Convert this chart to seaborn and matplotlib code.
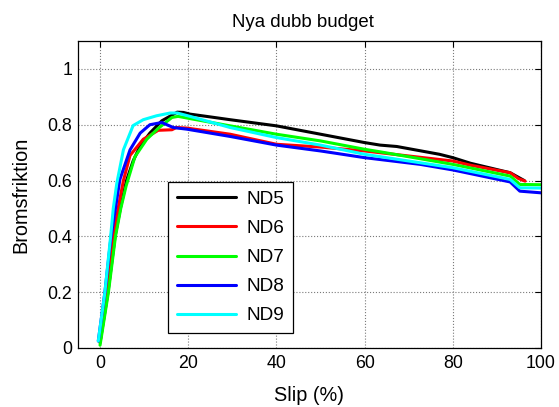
import matplotlib
matplotlib.use("Agg")
import matplotlib.pyplot as plt
import pandas as pd
import seaborn as sns
from matplotlib.ticker import FuncFormatter

# Tyre series and their line colours
series_names = ["ND5", "ND6", "ND7", "ND8", "ND9"]
series_colors = ["#000000", "#ff0000", "#00ff00", "#0000ff", "#00ffff"]

# Brake friction versus slip (%) for each tyre
nd5_slip = [0, 1.8, 3.4, 4.6, 6.0, 7.5, 9.1, 11.3, 14.0, 17.5, 18.9, 20.4, 25.0,
            29.5, 40.0, 50.0, 60.0, 63.5, 67.3, 77.0, 80.0, 84.0, 93.0, 96.2]
nd5_friction = [0.02, 0.20, 0.40, 0.50, 0.60, 0.67, 0.724, 0.77, 0.814, 0.845, 0.844,
                0.838, 0.828, 0.818, 0.796, 0.766, 0.736, 0.727, 0.722, 0.694, 0.682,
                0.662, 0.628, 0.600]

nd6_slip = [0, 1.5, 3.0, 4.1, 5.3, 6.8, 9.8, 13.2, 16.3, 17.3, 19.7, 29.5, 40.0,
            50.0, 60.0, 70.0, 80.0, 84.0, 93.0, 94.9, 96.4]
nd6_friction = [0.02, 0.20, 0.40, 0.50, 0.60, 0.69, 0.748, 0.78, 0.782, 0.79, 0.788,
                0.766, 0.73, 0.72, 0.706, 0.688, 0.67, 0.655, 0.628, 0.607, 0.598]

nd7_slip = [0, 1.9, 3.5, 4.7, 5.9, 7.9, 10.6, 13.2, 16.3, 17.7, 20.4, 29.5, 40.0,
            50.0, 60.0, 63.5, 80.0, 93.0, 95.2, 100.0]
nd7_friction = [0.01, 0.20, 0.40, 0.50, 0.58, 0.685, 0.748, 0.787, 0.826, 0.83, 0.822,
                0.796, 0.766, 0.742, 0.712, 0.703, 0.658, 0.616, 0.586, 0.585]

nd8_slip = [-0.4, 1.1, 2.5, 3.5, 4.5, 6.8, 9.1, 11.3, 14.0, 16.6, 19.7, 29.5, 40.0,
            50.0, 60.0, 72.6, 80.0, 93.0, 95.2, 100.0]
nd8_friction = [0.025, 0.20, 0.40, 0.50, 0.604, 0.71, 0.77, 0.80, 0.808, 0.79, 0.784,
                0.758, 0.727, 0.706, 0.682, 0.658, 0.638, 0.595, 0.562, 0.556]

nd9_slip = [-0.4, 1.1, 2.4, 3.0, 3.8, 5.3, 7.5, 9.8, 12.8, 15.9, 17.5, 20.4, 29.5,
            40.0, 50.0, 60.0, 80.0, 93.0, 95.2, 100.0]
nd9_friction = [0.025, 0.20, 0.40, 0.50, 0.59, 0.71, 0.797, 0.818, 0.832, 0.842, 0.842,
                0.83, 0.79, 0.754, 0.727, 0.694, 0.646, 0.604, 0.574, 0.573]

x_ticks = [0, 20, 40, 60, 80, 100]
y_ticks = [0, 0.2, 0.4, 0.6, 0.8, 1.0]

slips = [nd5_slip, nd6_slip, nd7_slip, nd8_slip, nd9_slip]
frictions = [nd5_friction, nd6_friction, nd7_friction, nd8_friction, nd9_friction]
df = pd.concat(
    [pd.DataFrame({"Slip": s, "Friktion": f, "Däck": n})
     for n, s, f in zip(series_names, slips, frictions)],
    ignore_index=True,
)

sns.set_style("white")
plt.rcParams["font.family"] = ["Liberation Sans", "DejaVu Sans"]
plt.rcParams.update({
    "text.color": "black",
    "axes.labelcolor": "black",
    "xtick.color": "black",
    "ytick.color": "black",
})

fig = plt.figure(figsize=(5.59, 4.07), dpi=100)
ax = fig.add_axes([78 / 559, 59 / 407, 463 / 559, 307 / 407])

sns.lineplot(
    data=df, x="Slip", y="Friktion", hue="Däck", hue_order=series_names,
    palette=dict(zip(series_names, series_colors)), estimator=None, sort=False,
    linewidth=2.2, ax=ax,
)

ax.set_xlim(-5, 100)
ax.set_ylim(0, 1.1)
ax.set_xticks(x_ticks)
ax.set_yticks(y_ticks)
ax.yaxis.set_major_formatter(FuncFormatter(lambda v, _: f"{v:g}"))
ax.grid(True, linestyle=":", color="#7a7a7a", linewidth=0.8)
for sp in ax.spines.values():
    sp.set_color("black")
    sp.set_linewidth(0.9)
ax.tick_params(direction="in", top=True, right=True, length=4, width=0.8,
               color="black", labelcolor="black", labelsize=12.8)
ax.tick_params(axis="x", pad=5.4)
ax.tick_params(axis="y", pad=4.3)

ax.set_xlabel("Slip (%)", fontsize=14.3, labelpad=9.5, color="black")
ax.set_ylabel("Bromsfriktion", fontsize=14.3, labelpad=12, color="black")
ax.set_title("Nya dubb budget", fontsize=13.4, pad=10, x=0.486, color="black")

handles, labels = ax.get_legend_handles_labels()
leg = ax.legend(
    handles, labels, loc="lower left", bbox_to_anchor=(0.195, 0.049),
    borderaxespad=0, frameon=True, fancybox=False, edgecolor="black",
    framealpha=1, fontsize=13.7, handlelength=3.1, handletextpad=0.55,
    labelspacing=0.62, borderpad=0.45,
)
leg.get_frame().set_linewidth(0.9)
for t in leg.get_texts():
    t.set_color("black")

fig.savefig("out.png", dpi=100)
